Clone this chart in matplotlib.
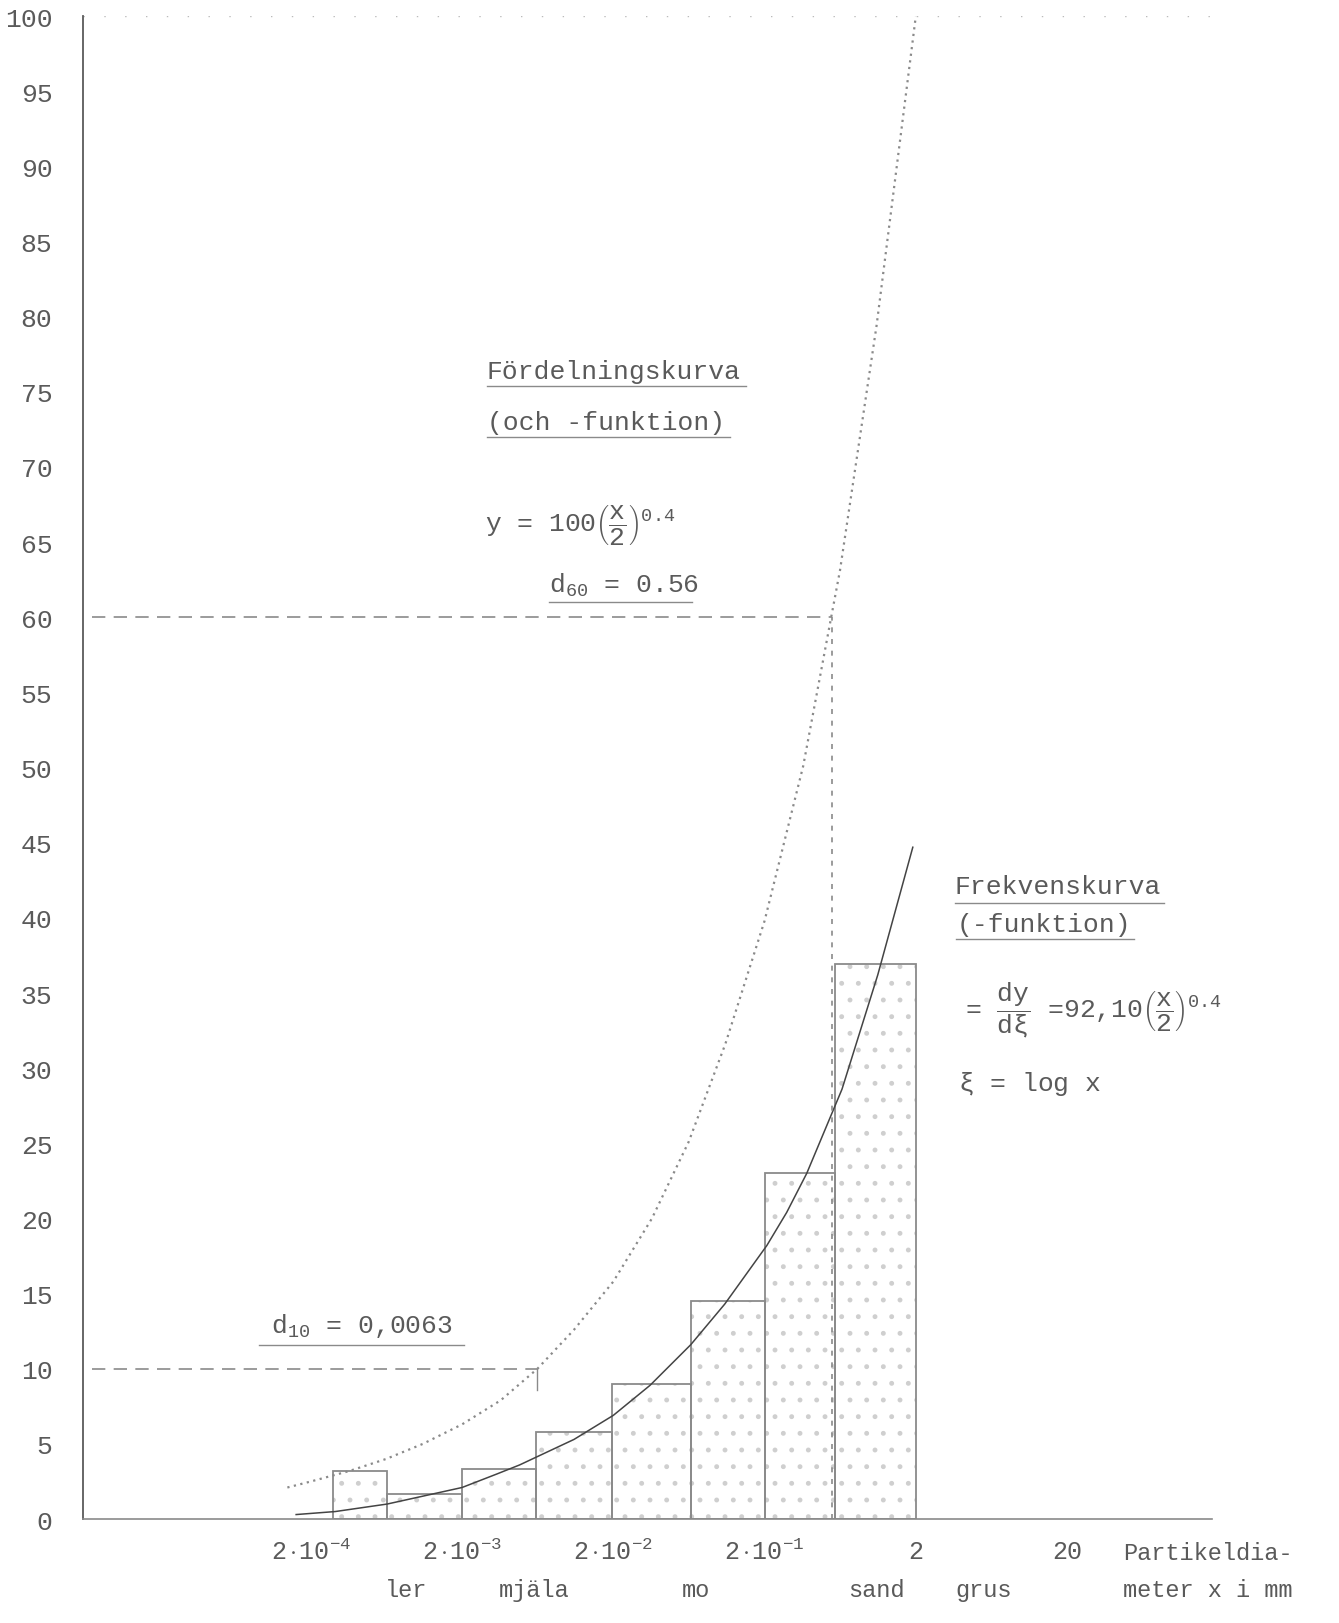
import numpy as np
import matplotlib.pyplot as plt

plt.rcParams['font.family'] = ['Liberation Mono', 'DejaVu Sans']
plt.rcParams['mathtext.fontset'] = 'custom'
plt.rcParams['mathtext.rm'] = 'Liberation Mono'
plt.rcParams['mathtext.it'] = 'Liberation Mono'
plt.rcParams['mathtext.bf'] = 'Liberation Mono'
plt.rcParams['hatch.linewidth'] = 1.1

# histogram (half-decade classes)
bin_edges = [2.8e-4, 6.4e-4, 2e-3, 6.2e-3, 0.0195, 0.065, 0.2, 0.58, 2]
bar_heights = [3.2, 1.7, 3.3, 5.8, 9.0, 14.5, 23.0, 36.9]

# distribution curve (dotted)
dist_x = [1.4e-4, 2e-4, 3.6e-4, 6.3e-4, 1.1e-3, 2e-3, 3.6e-3, 6.3e-3, 0.011,
          0.02, 0.036, 0.063, 0.11, 0.2, 0.36, 0.63, 1.1, 2]
dist_y = [2.1, 2.5, 3.2, 4.0, 5.0, 6.3, 7.9, 10.0, 12.6,
          15.8, 20.0, 25.1, 31.6, 39.8, 50.1, 63.1, 79.4, 100]

# frequency curve (solid)
freq_x = [1.6e-4, 2.9e-4, 6.4e-4, 2e-3, 3.4e-3, 4.8e-3, 0.011, 0.02, 0.035,
          0.065, 0.109, 0.207, 0.28, 0.38, 0.65, 1.12, 1.91]
freq_y = [0.3, 0.5, 1.0, 2.1, 3.0, 3.6, 5.3, 6.9, 8.9,
          11.6, 14.3, 18.2, 20.4, 23.0, 28.6, 36.2, 44.7]

d10 = 0.0063
d60 = 0.56

xtick_vals = [2e-4, 2e-3, 2e-2, 2e-1, 2, 20]
xtick_labels = [r"$2\cdot10^{-4}$", r"$2\cdot10^{-3}$", r"$2\cdot10^{-2}$",
                r"$2\cdot10^{-1}$", "2", "20"]
soil_names = ["ler", "mjäla", "mo", "sand", "grus"]
soil_x = [8.5e-4, 6.0e-3, 0.07, 1.1, 5.6]

ink = '#5a5a5a'
light = '#8a8a8a'

fig = plt.figure(figsize=(13.39, 16.24), dpi=100)
ax = fig.add_axes([0.062, 0.064, 0.843, 0.9255])
ax.set_xscale('log')
ax.set_xlim(6.24e-6, 181)
ax.set_ylim(0, 100)

widths = np.diff(bin_edges)
# stipple fill, then outline
ax.bar(bin_edges[:-1], bar_heights, width=widths, align='edge',
       facecolor='none', edgecolor='#cfcfcf', hatch='.', linewidth=0)
ax.bar(bin_edges[:-1], bar_heights, width=widths, align='edge',
       facecolor='none', edgecolor=light, linewidth=1.3)

ax.plot(dist_x, dist_y, color=light, lw=1.6, ls=(0, (1, 2)))
ax.plot(freq_x, freq_y, color='#444444', lw=1.1)

# d60 / d10 lines
x0 = ax.get_xlim()[0]
ax.plot([x0 * 1.15, d60], [60, 60], color=light, lw=1.2, ls=(0, (8, 5)))
ax.plot([d60, d60], [0, 60], color=light, lw=1.2, ls=(0, (3, 4)))
ax.plot([x0 * 1.15, d10], [10, 10], color=light, lw=1.2, ls=(0, (8, 5)))
ax.plot([d10, d10], [8.6, 10], color=light, lw=1.0)
ax.axhline(100, color='#bbbbbb', lw=1.0, ls=(0, (1, 14)))

for s in ['top', 'right']:
    ax.spines[s].set_visible(False)
ax.spines['left'].set_color(ink)
ax.spines['left'].set_linewidth(1.3)
ax.spines['bottom'].set_color(light)
ax.spines['bottom'].set_linewidth(1.2)

ax.set_yticks(range(0, 101, 5))
ax.tick_params(axis='y', length=0, pad=22, labelsize=19, labelcolor=ink)
ax.set_xticks(xtick_vals)
ax.set_xticklabels(xtick_labels)
ax.minorticks_off()
ax.tick_params(axis='x', length=0, pad=14, labelsize=18, labelcolor=ink)

for name, xv in zip(soil_names, soil_x):
    ax.text(xv, -4.7, name, ha='center', va='center', fontsize=17,
            color=ink, clip_on=False)
ax.text(47, -2.2, "Partikeldia-", ha='left', va='center', fontsize=17,
        color=ink, clip_on=False)
ax.text(47, -4.7, "meter x i mm", ha='left', va='center', fontsize=17,
        color=ink, clip_on=False)

# annotations
txt = dict(fontsize=19, color=ink, va='center', ha='left')
ax.text(2.92e-3, 76.4, "Fördelningskurva", **txt)
ax.plot([2.92e-3, 0.15], [75.4, 75.4], color=light, lw=1.0)
ax.text(2.92e-3, 73.0, "(och -funktion)", **txt)
ax.plot([2.92e-3, 0.118], [72.0, 72.0], color=light, lw=1.0)
ax.text(2.85e-3, 66.2, r"y = 100$\left(\dfrac{x}{2}\right)^{0.4}$", **txt)
ax.text(7.5e-3, 62.2, r"d$_{60}$ = 0.56", **txt)
ax.plot([7.5e-3, 0.066], [61.0, 61.0], color=light, lw=1.0)
ax.text(1.09e-4, 12.9, r"d$_{10}$ = 0,0063", **txt)
ax.plot([9.1e-5, 2.06e-3], [11.6, 11.6], color=light, lw=1.0)

ax.text(3.62, 42.1, "Frekvenskurva", **txt)
ax.plot([3.62, 88], [41.0, 41.0], color=light, lw=1.0)
ax.text(3.7, 39.6, "(-funktion)", **txt)
ax.plot([3.7, 55], [38.6, 38.6], color=light, lw=1.0)
ax.text(4.2, 33.9,
        r"= $\dfrac{dy}{d\xi}$ =92,10$\left(\dfrac{x}{2}\right)^{0.4}$",
        **txt)
ax.text(3.8, 29.0, r"$\xi$ = log x", **txt)

fig.savefig("out.png", dpi=100)
